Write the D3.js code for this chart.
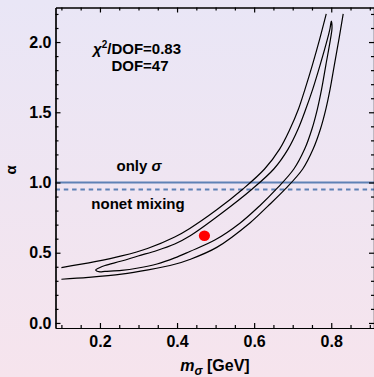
<!DOCTYPE html>
<html lang="en">
<head>
<meta charset="UTF-8">
<title>alpha vs m_sigma</title>
<style>
  body{ margin:0; }
  svg{ display:block; font-family:"Liberation Sans", Arial, Helvetica, sans-serif; font-weight:bold; }
  .axis path, .axis line{ stroke:#000; stroke-width:1.2; }
  .axis text{ font-size:16px; font-weight:bold; fill:#000; }
  .note{ font-size:15px; fill:#000; text-anchor:middle; }
  .contour{ fill:none; stroke:#000; stroke-width:1.2; }
</style>
<script src="https://d3js.org/d3.v7.min.js"></script>
</head>
<body>
<script>
// tick values
var xMajor = [0.2, 0.4, 0.6, 0.8];
var xMinor = [0.1, 0.15, 0.25, 0.3, 0.35, 0.45, 0.5, 0.55, 0.65, 0.7, 0.75, 0.85, 0.9];
var yMajor = [0, 0.5, 1.0, 1.5, 2.0];
var yMinor = [0.1, 0.2, 0.3, 0.4, 0.6, 0.7, 0.8, 0.9, 1.1, 1.2, 1.3, 1.4, 1.6, 1.7, 1.8, 1.9, 2.1, 2.2];

// outer contour, two open branches [m_sigma, alpha]
var outerUpper = [[0.100,0.394],[0.187,0.436],[0.256,0.477],[0.325,0.532],[0.394,0.612],[0.433,0.673],
  [0.502,0.804],[0.571,0.954],[0.627,1.096],[0.666,1.238],[0.693,1.381],[0.715,1.523],[0.732,1.665],
  [0.751,1.836],[0.770,2.021],[0.787,2.200]];
var outerLower = [[0.100,0.311],[0.170,0.324],[0.256,0.347],[0.325,0.378],[0.394,0.418],[0.433,0.452],
  [0.503,0.538],[0.589,0.712],[0.635,0.830],[0.681,0.954],[0.726,1.096],[0.753,1.238],[0.772,1.381],
  [0.786,1.523],[0.797,1.665],[0.808,1.836],[0.820,2.021],[0.831,2.200]];

// inner contour, closed: upper side from left tip to top tip, lower side without tips
var innerUpper = [[0.189,0.377],[0.200,0.395],[0.213,0.409],[0.256,0.441],[0.299,0.477],[0.348,0.516],
  [0.394,0.562],[0.433,0.619],[0.513,0.776],[0.595,0.954],[0.651,1.096],[0.688,1.238],[0.714,1.381],
  [0.734,1.523],[0.752,1.665],[0.771,1.836],[0.790,2.021],[0.797,2.100],[0.800,2.149]];
var innerLower = [[0.200,0.364],[0.213,0.367],[0.256,0.374],[0.299,0.391],[0.348,0.420],[0.394,0.463],
  [0.433,0.509],[0.498,0.590],[0.563,0.710],[0.614,0.833],[0.658,0.954],[0.703,1.096],[0.731,1.238],
  [0.750,1.381],[0.764,1.523],[0.775,1.665],[0.786,1.836],[0.798,2.021],[0.802,2.100]];

var bestFit = [0.471, 0.621];
var onlySigma = 1.0;
var nonetMixing = 0.95;

var W = 374, H = 377;
var pL = 55.5, pR = 374, pT = 7.5, pB = 328;

var xs = d3.scaleLinear().domain([0.0847, 0.9109]).range([pL, pR]);
var ys = d3.scaleLinear().domain([-0.036, 2.246]).range([pB, pT]);

var svg = d3.select("body").append("svg").attr("width", W).attr("height", H);

var defs = svg.append("defs");
var grad = defs.append("linearGradient").attr("id", "bg")
  .attr("x1", 0).attr("y1", 0).attr("x2", 0).attr("y2", 1);
grad.append("stop").attr("offset", "0%").attr("stop-color", "#e9e6f6");
grad.append("stop").attr("offset", "100%").attr("stop-color", "#f6e4ed");
defs.append("clipPath").attr("id", "plot").append("rect")
  .attr("x", pL).attr("y", pT).attr("width", pR - pL).attr("height", pB - pT);

svg.append("rect").attr("width", W).attr("height", H).attr("fill", "url(#bg)");

// reference lines
svg.append("line").attr("x1", pL).attr("x2", pR)
  .attr("y1", ys(onlySigma)).attr("y2", ys(onlySigma))
  .attr("stroke", "#5e81b5").attr("stroke-width", 2);
svg.append("line").attr("x1", pL).attr("x2", pR)
  .attr("y1", ys(nonetMixing)).attr("y2", ys(nonetMixing))
  .attr("stroke", "#5e81b5").attr("stroke-width", 2).attr("stroke-dasharray", "4.5,3.8");

// contours
var g = svg.append("g").attr("clip-path", "url(#plot)");
var openLine = d3.line().x(d => xs(d[0])).y(d => ys(d[1])).curve(d3.curveCatmullRom.alpha(0.5));
var loopLine = d3.line().x(d => xs(d[0])).y(d => ys(d[1])).curve(d3.curveCatmullRomClosed.alpha(0.5));
g.append("path").attr("class", "contour").attr("d", openLine(outerUpper));
g.append("path").attr("class", "contour").attr("d", openLine(outerLower));
g.append("path").attr("class", "contour").attr("d", loopLine(innerUpper.concat(innerLower.slice().reverse())));

g.append("ellipse").attr("cx", xs(bestFit[0])).attr("cy", ys(bestFit[1]))
  .attr("rx", 5.6).attr("ry", 5.2).attr("fill", "#ff0000");

// frame with ticks
function frame(axis, tx, ty, vals, size, labels) {
  return svg.append("g").attr("class", "axis").attr("transform", "translate(" + tx + "," + ty + ")")
    .call(axis.tickValues(vals).tickSizeInner(size).tickSizeOuter(0)
      .tickFormat(labels ? d3.format(".1f") : ""));
}
frame(d3.axisBottom(xs), 0, pB, xMinor, -3, false);
frame(d3.axisBottom(xs), 0, pB, xMajor, -5, true).call(a => a.selectAll("text").attr("y", 8));
frame(d3.axisTop(xs), 0, pT, xMinor, -3, false);
frame(d3.axisTop(xs), 0, pT, xMajor, -5, false);
frame(d3.axisLeft(ys), pL, 0, yMinor, -3, false);
frame(d3.axisLeft(ys), pL, 0, yMajor, -5, true).call(a => a.selectAll("text").attr("x", -4));
frame(d3.axisRight(ys), pR, 0, yMinor, -3, false);
frame(d3.axisRight(ys), pR, 0, yMajor, -5, false);
svg.selectAll(".axis").attr("font-family", null).attr("font-size", null);

// annotations
var t1 = svg.append("text").attr("class", "note").attr("x", 137).attr("y", 54);
t1.append("tspan").attr("font-style", "italic").text("χ");
t1.append("tspan").attr("font-size", "10px").attr("dy", -6).text("2");
t1.append("tspan").attr("dy", 6).text("/DOF=0.83");
svg.append("text").attr("class", "note").attr("x", 140).attr("y", 71).text("DOF=47");

var t2 = svg.append("text").attr("class", "note").attr("x", 139).attr("y", 171);
t2.append("tspan").text("only ");
t2.append("tspan").attr("font-style", "italic").text("σ");
svg.append("text").attr("class", "note").attr("x", 138).attr("y", 209).text("nonet mixing");

// axis titles
svg.append("text").attr("transform", "translate(16,170) rotate(-90)")
  .attr("text-anchor", "middle").attr("font-size", "15px").text("α");
var xl = svg.append("text").attr("x", 215).attr("y", 371)
  .attr("text-anchor", "middle").attr("font-size", "16px");
xl.append("tspan").attr("font-style", "italic").text("m");
xl.append("tspan").attr("font-style", "italic").attr("font-size", "12px").attr("dy", 4).text("σ");
xl.append("tspan").attr("dy", -4).text(" [GeV]");
</script>
</body>
</html>
